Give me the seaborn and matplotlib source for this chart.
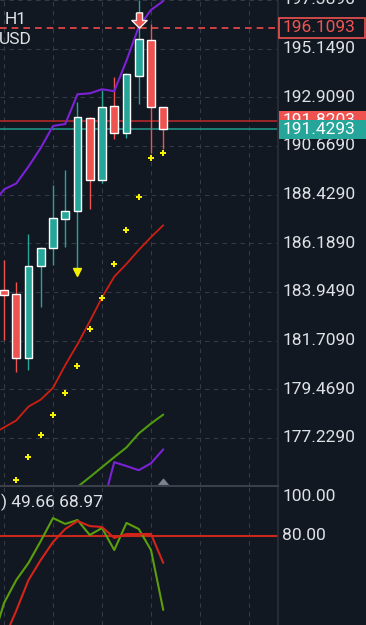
import numpy as np
import pandas as pd
import matplotlib.pyplot as plt
import matplotlib.transforms as mtransforms
from matplotlib.path import Path
import seaborn as sns

# Dados dos candles H1 (indice 0 = primeiro candle visivel)
candle_idx = np.arange(14)
opens  = [184.04, 183.84, 180.92, 185.15, 185.96, 187.30, 187.69, 191.95, 189.09, 192.49, 191.28, 193.90, 195.56, 192.44]
highs  = [185.42, 184.42, 186.61, 186.02, 188.86, 189.57, 192.67, 192.01, 193.26, 193.86, 194.01, 197.40, 196.29, 192.44]
lows   = [181.73, 180.28, 180.36, 183.25, 185.18, 186.02, 185.01, 187.77, 188.98, 191.01, 191.04, 192.58, 190.35, 190.55]
closes = [183.81, 180.92, 185.16, 185.97, 187.37, 187.69, 191.99, 189.11, 192.47, 191.28, 193.96, 195.61, 192.44, 191.43]

# Indicadores do painel principal
line_idx = np.arange(-1, 14)
ma_red = [177.39, 177.71, 178.03, 178.67, 178.99, 179.53, 180.58, 181.54, 182.59, 183.69, 184.65, 185.24, 185.88, 186.47, 187.02]
band_up = [187.93, 188.67, 188.94, 189.72, 190.58, 191.59, 191.68, 193.05, 193.09, 193.28, 193.19, 194.60, 196.15, 196.93, 197.34]
green_idx = np.arange(6, 14)
green_line = [174.97, 175.42, 175.88, 176.34, 176.79, 177.43, 177.89, 178.30]
band_low_idx = np.arange(8, 14)
band_low = [174.00, 176.11, 175.93, 175.74, 176.06, 176.70]
sar_idx = np.arange(1, 14)
sar = [175.29, 176.34, 177.34, 178.26, 179.31, 180.54, 182.23, 183.69, 185.24, 186.79, 188.30, 190.13, 190.36]

# Sinais
sell_idx = [11]
sell_price = [196.47]
tri_idx = [6]
tri_price = [184.88]
nav_idx = [13]
nav_price = [175.17]

# Niveis de preco
sl_level = 196.1093
ask_level = 191.8203
bid_level = 191.4293
price_ticks = [197.389, 195.149, 192.909, 190.669, 188.429, 186.189, 183.949, 181.709, 179.469, 177.229]

# Estocastico
stoch_idx = np.arange(-1, 14)
stoch_k = [25.0, 45.6, 57.4, 66.2, 77.4, 89.2, 86.2, 88.2, 80.5, 84.1, 72.8, 86.7, 83.6, 72.8, 42.1]
stoch_d = [10.0, 27.2, 41.7, 57.4, 67.7, 76.9, 83.6, 87.7, 85.1, 84.6, 79.0, 81.0, 81.0, 81.0, 66.2]
stoch_ticks = [100.0, 80.0]
stoch_header = ") 49.66 68.97"

# Cores
fundo = "#111821"
texto = "#dfe1e6"
verde = "#26a69a"
vermelho = "#ef5350"
grade = "#343a46"
roxo = "#7b22d6"

sns.set_theme(style="dark", rc={"figure.facecolor": fundo, "axes.facecolor": fundo,
                                "text.color": texto, "axes.edgecolor": "#2a2f3a"})
plt.rcParams["font.family"] = ["Roboto", "DejaVu Sans"]

fig = plt.figure(figsize=(3.66, 6.25), dpi=100)
ax = fig.add_axes([0, 139 / 625, 278 / 366, 486 / 625])
ax2 = fig.add_axes([0, 0, 278 / 366, 139 / 625])

xlim = (-4 / 12.25, 274 / 12.25)
for a in (ax, ax2):
    a.set_xlim(*xlim)
    a.set_xticks([0, 4, 8, 12, 16, 20])
    a.tick_params(length=0, labelbottom=False, labelleft=False)
    a.grid(True, axis="x", color=grade, lw=0.8, linestyle=(0, (4, 4)))
    for s in a.spines.values():
        s.set_visible(False)
    a.spines["right"].set_visible(True)
    a.spines["right"].set_color("#2a2f3a")

ax.set_ylim(175.013, 197.204)
ax.set_yticks(price_ticks)
ax.grid(True, axis="y", color=grade, lw=0.8, linestyle=(0, (4, 4)))
ax2.set_ylim(34.36, 105.64)
ax2.set_yticks([])
ax2.spines["top"].set_visible(True)
ax2.spines["top"].set_color("#3a3f4a")
ax2.spines["top"].set_linewidth(1.5)

# Candles
df = pd.DataFrame({"idx": candle_idx, "open": opens, "high": highs, "low": lows, "close": closes})
cores = np.where(df["close"] >= df["open"], verde, vermelho)
ax.vlines(df["idx"], df["low"], df["high"], color=cores, lw=1, zorder=3)
ax.bar(df["idx"], (df["close"] - df["open"]).abs(), bottom=df[["open", "close"]].min(axis=1),
       width=0.63, color=cores, zorder=4)

# Linhas horizontais
ax.axhline(ask_level, color="#b3282a", lw=1.2, zorder=2)
ax.axhline(bid_level, color="#1f8f84", lw=1.2, zorder=2)
ax.axhline(sl_level, color="#f04848", lw=1.2, linestyle=(0, (4, 3)), zorder=2)

# Indicadores
sns.lineplot(x=line_idx, y=ma_red, ax=ax, color="#cf1f12", lw=1.3, legend=False, zorder=5)
sns.lineplot(x=line_idx, y=band_up, ax=ax, color=roxo, lw=1.5, legend=False, zorder=5)
sns.lineplot(x=green_idx, y=green_line, ax=ax, color="#4f9a0e", lw=1.5, legend=False, zorder=5)
sns.lineplot(x=band_low_idx, y=band_low, ax=ax, color=roxo, lw=1.5, legend=False, zorder=5)
sns.scatterplot(x=sar_idx, y=sar, ax=ax, color="#f5f000", marker="P", s=14, linewidth=0, zorder=6)

# Setas
seta = Path([(-0.4, 1), (0.4, 1), (0.4, 0), (1, 0), (0, -1), (-1, 0), (-0.4, 0), (-0.4, 1)])
ax.plot(sell_idx, sell_price, marker=seta, ms=11, mfc=vermelho, mec="#f0f0f0", mew=1, ls="none", zorder=7)
ax.plot(tri_idx, tri_price, marker="v", ms=6, color="#f5f000", ls="none", zorder=7)
tri_nav = Path([(-1, -0.6), (1, -0.6), (0, 0.6), (-1, -0.6)])
ax.plot(nav_idx, nav_price, marker=tri_nav, ms=10, color="#7d8290", ls="none", zorder=7, clip_on=False)

# Rotulos de preco
trans = mtransforms.blended_transform_factory(ax.transAxes, ax.transData)
for p in price_ticks:
    ax.text(1.016, p, f"{p:.4f}", transform=trans, ha="left", va="center", fontsize=12.5,
            color=texto, clip_on=False)

h = 20 / 21.9
ax.add_patch(plt.Rectangle((1.004, sl_level - h / 2 - 0.02), 0.31, h, transform=trans, clip_on=False,
                           facecolor=fundo, edgecolor=vermelho, lw=1.2, zorder=8))
ax.text(1.016, sl_level, f"{sl_level:.4f}", transform=trans, ha="left", va="center", fontsize=12.5,
        color=vermelho, clip_on=False, zorder=9)
ax.add_patch(plt.Rectangle((1.004, ask_level - h / 2), 0.32, h, transform=trans, clip_on=False,
                           facecolor=vermelho, edgecolor="none", zorder=8))
ax.text(1.016, ask_level, f"{ask_level:.4f}", transform=trans, ha="left", va="center", fontsize=12.5,
        color="white", clip_on=False, zorder=9)
ax.add_patch(plt.Rectangle((1.004, bid_level - h / 2), 0.32, h, transform=trans, clip_on=False,
                           facecolor=verde, edgecolor="none", zorder=10))
ax.text(1.016, bid_level, f"{bid_level:.4f}", transform=trans, ha="left", va="center", fontsize=12.5,
        color="white", clip_on=False, zorder=11)

# Estocastico
ax2.axhline(80, color="#c8281c", lw=1.5, zorder=2)
sns.lineplot(x=stoch_idx, y=stoch_k, ax=ax2, color="#5c9e0c", lw=1.5, legend=False, zorder=4)
sns.lineplot(x=stoch_idx, y=stoch_d, ax=ax2, color="#d6231a", lw=1.5, legend=False, zorder=5)
trans2 = mtransforms.blended_transform_factory(ax2.transAxes, ax2.transData)
for v in stoch_ticks:
    ax2.text(1.016, v, f"{v:.2f}", transform=trans2, ha="left", va="center", fontsize=12.5,
             color=texto, clip_on=False)

# Textos do canto
fig.text(5 / 366, 1 - 19 / 625, "H1", ha="left", va="center", fontsize=12.5, color=texto)
fig.text(-1 / 366, 1 - 40 / 625, "USD", ha="left", va="center", fontsize=12.5, color=texto)
fig.text(1 / 366, 1 - 502 / 625, stoch_header, ha="left", va="center", fontsize=12.5, color=texto)

fig.savefig("out.png", dpi=100, facecolor=fundo)
